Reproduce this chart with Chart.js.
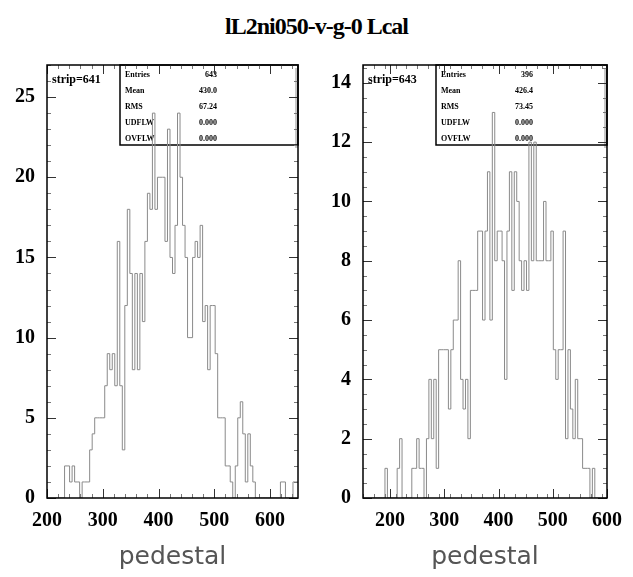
<!DOCTYPE html>
<html>
<head>
<meta charset="utf-8">
<script src="https://cdn.jsdelivr.net/npm/chart.js@4.4.1/dist/chart.umd.min.js"></script>
<style>
  html, body { margin: 0; padding: 0; background: #fff; }
  body { width: 633px; height: 577px; position: relative; overflow: hidden; }
  #title { position: absolute; left: 0; top: 13px; width: 633px; text-align: center;
           font: bold 24px "Liberation Serif"; letter-spacing: -1px; color: #000; }
  .panel { position: absolute; top: 0; }
</style>
</head>
<body>
<div id="title">lL2ni050-v-g-0 Lcal</div>
<div class="panel" style="left:0"><canvas id="leftChart" width="316" height="577"></canvas></div>
<div class="panel" style="left:316px"><canvas id="rightChart" width="317" height="577"></canvas></div>
<script>
// histogram contents (100 bins each)
const leftCounts = [
  0, 0, 0, 0, 0, 0, 0, 0,
  2, 2, 1, 2, 1, 1, 0, 1, 1, 1,
  3, 4, 5, 5, 5, 5,
  7, 9, 8, 9, 7,
  16, 7, 3, 12, 18, 14, 8, 14, 8,
  14, 11, 16, 19, 18, 24, 18, 20, 20, 20,
  16, 23, 15, 14, 17, 24, 20, 17, 15, 10,
  10, 15, 16, 15, 17, 11, 12, 8, 12, 12,
  9, 5, 5, 5, 2, 2, 1, 0, 2, 5,
  6, 4, 1, 4, 2, 1,
  0, 0, 0, 0, 0, 0, 0, 0, 0, 0,
  1, 1, 0, 0, 0, 1
];
const rightCounts = [
  0, 0, 0, 0, 0, 0, 0, 0, 0, 0,
  1, 0, 0, 0, 0,
  1, 2, 0, 0, 0, 0,
  1, 1, 2, 1,
  1, 0, 2, 4, 2, 4, 1,
  5, 5, 5, 5, 3, 5, 6, 6,
  8, 4, 3, 4, 2, 7, 7, 7,
  9, 9, 6, 9, 11, 6, 13, 8,
  9, 9, 8, 4, 9, 11, 7, 11,
  10, 8, 7, 8, 7, 12, 8, 12,
  8, 8, 8, 10, 8, 8, 9, 5,
  4, 5, 5, 9, 2, 5, 3, 2,
  4, 2, 2, 1, 1, 1, 0, 1,
  0, 0, 0, 0
];

// axis ranges and labels
const leftRange = [200, 650];
const rightRange = [150, 600];
const leftYMax = 27;
const rightYMax = 14.6;
const xTickLabels = [200, 300, 400, 500, 600];
const leftYTicks = [0, 5, 10, 15, 20, 25];
const rightYTicks = [0, 2, 4, 6, 8, 10, 12, 14];

// stat box
const statLabels = ['Entries', 'Mean', 'RMS', 'UDFLW', 'OVFLW'];
const leftStats = ['643', '430.0', '67.24', '0.000', '0.000'];
const rightStats = ['396', '426.4', '73.45', '0.000', '0.000'];

const tickFont = { family: 'Liberation Serif', size: 20, weight: 'bold' };

// boîte de stats (sous l'histogramme), cadre et graduations internes
const framePlugin = {
  id: 'frame',
  beforeDatasetsDraw(chart, args, opts) {
    const { ctx, chartArea: a } = chart;
    ctx.save();
    const bx = a.left + 73, by = a.top, bw = a.right - bx, bh = 80;
    ctx.fillStyle = '#c8c8c8';
    ctx.fillRect(a.right - 3, by + 3, 3, bh);
    ctx.strokeStyle = '#000';
    ctx.lineWidth = 1.5;
    ctx.strokeRect(bx, by, bw, bh);
    ctx.fillStyle = '#000';
    ctx.font = 'bold 8px "Liberation Serif"';
    ctx.textBaseline = 'middle';
    statLabels.forEach((label, i) => {
      const ty = by + 10 + i * 16;
      ctx.textAlign = 'left';
      ctx.fillText(label, bx + 5, ty);
      ctx.textAlign = 'right';
      ctx.fillText(opts.stats[i], bx + 97, ty);
    });
    ctx.restore();
  },
  afterDraw(chart, args, opts) {
    const { ctx, chartArea: a, scales: { x, y } } = chart;
    ctx.save();

    function seg(x1, y1, x2, y2) {
      ctx.beginPath(); ctx.moveTo(x1, y1); ctx.lineTo(x2, y2); ctx.stroke();
    }

    // minor ticks
    ctx.strokeStyle = '#777';
    ctx.lineWidth = 1;
    for (let v = opts.xRange[0]; v <= opts.xRange[1]; v += 20) {
      const px = Math.round(x.getPixelForValue(v)) + 0.5;
      seg(px, a.bottom, px, a.bottom - 4);
      seg(px, a.top, px, a.top + 4);
    }
    for (let v = 0; v <= opts.yMax; v += opts.yMinor) {
      const py = Math.round(y.getPixelForValue(v)) + 0.5;
      seg(a.left, py, a.left + 4, py);
      seg(a.right, py, a.right - 4, py);
    }

    // major ticks
    ctx.strokeStyle = '#333';
    xTickLabels.forEach(v => {
      const px = Math.round(x.getPixelForValue(v)) + 0.5;
      seg(px, a.bottom, px, a.bottom - 9);
      seg(px, a.top, px, a.top + 9);
    });
    opts.yTicks.forEach(v => {
      const py = Math.round(y.getPixelForValue(v)) + 0.5;
      seg(a.left, py, a.left + 9, py);
      seg(a.right, py, a.right - 9, py);
    });

    // frame
    ctx.strokeStyle = '#000';
    ctx.lineWidth = 1.5;
    ctx.strokeRect(a.left, a.top, a.right - a.left, a.bottom - a.top);

    // strip label
    ctx.fillStyle = '#000';
    ctx.font = 'bold 12px "Liberation Serif"';
    ctx.textBaseline = 'middle';
    ctx.textAlign = 'left';
    ctx.fillText(opts.strip, a.left + 5, a.top + 15);
    ctx.restore();
  }
};

function makeHistogram(canvasId, counts, range, yMax, yTicks, yMinor, strip, stats) {
  const binWidth = (range[1] - range[0]) / counts.length;
  const points = counts.map((c, i) => ({ x: range[0] + i * binWidth, y: c }));
  points.push({ x: range[1], y: counts[counts.length - 1] });

  new Chart(document.getElementById(canvasId), {
    type: 'line',
    data: {
      datasets: [{
        data: points,
        stepped: 'after',
        borderColor: '#8a8a8a',
        borderWidth: 1,
        pointRadius: 0,
        fill: false
      }]
    },
    options: {
      responsive: false,
      animation: false,
      layout: { padding: { top: 65, right: 18, left: 0, bottom: 0 } },
      plugins: {
        legend: { display: false },
        tooltip: { enabled: false },
        frame: { xRange: range, yMax: yMax, yTicks: yTicks, yMinor: yMinor, strip: strip, stats: stats }
      },
      scales: {
        x: {
          type: 'linear',
          min: range[0],
          max: range[1],
          afterBuildTicks: s => { s.ticks = xTickLabels.map(v => ({ value: v })); },
          afterFit: s => { s.height = 79; },
          grid: { display: false, drawTicks: false },
          border: { display: false },
          ticks: { font: tickFont, color: '#000', padding: 11, maxRotation: 0, autoSkip: false },
          title: {
            display: true,
            text: 'pedestal',
            color: '#555',
            font: { family: 'DejaVu Sans', size: 25 },
            padding: { top: 0, bottom: 5 }
          }
        },
        y: {
          min: 0,
          max: yMax,
          afterBuildTicks: s => { s.ticks = yTicks.map(v => ({ value: v })); },
          afterFit: s => { s.width = 47; },
          grid: { display: false, drawTicks: false },
          border: { display: false },
          ticks: { font: tickFont, color: '#000', padding: 12, autoSkip: false }
        }
      }
    },
    plugins: [framePlugin]
  });
}

makeHistogram('leftChart', leftCounts, leftRange, leftYMax, leftYTicks, 1, 'strip=641', leftStats);
makeHistogram('rightChart', rightCounts, rightRange, rightYMax, rightYTicks, 0.5, 'strip=643', rightStats);
</script>
</body>
</html>
